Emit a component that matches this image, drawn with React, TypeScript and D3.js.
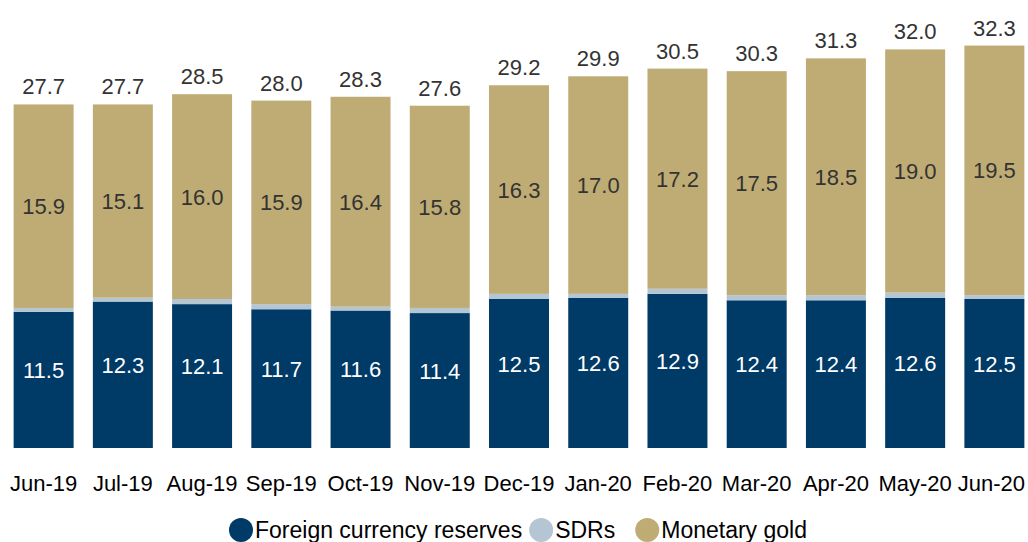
import React, { useEffect, useRef } from "react";
import * as d3 from "d3";

const months = ["Jun-19","Jul-19","Aug-19","Sep-19","Oct-19","Nov-19","Dec-19","Jan-20","Feb-20","Mar-20","Apr-20","May-20","Jun-20"];
const foreignReserves = [11.5,12.3,12.1,11.7,11.6,11.4,12.5,12.6,12.9,12.4,12.4,12.6,12.5];
const sdrs = [0.3,0.3,0.4,0.4,0.3,0.4,0.4,0.3,0.4,0.4,0.4,0.4,0.3];
const monetaryGold = [15.9,15.1,16.0,15.9,16.4,15.8,16.3,17.0,17.2,17.5,18.5,19.0,19.5];
const totals = [27.7,27.7,28.5,28.0,28.3,27.6,29.2,29.9,30.5,30.3,31.3,32.0,32.3];
const seriesNames = ["Foreign currency reserves","SDRs","Monetary gold"];
const seriesColors = ["#003A66","#B4C6D3","#BFAC74"];

const W = 1028, H = 542;
const FONT = "'Liberation Sans', Arial, sans-serif";

export default function App() {
  const ref = useRef<SVGSVGElement | null>(null);
  useEffect(() => {
    const svg = d3.select(ref.current);
    svg.selectAll("*").remove();
    const plotBottom = 448;
    const x = d3.scaleBand<string>().domain(months).range([4, 1034]).paddingInner(0.243).paddingOuter(0.1215);
    const y = d3.scaleLinear().domain([0, 35]).range([459, 459 - 35 * 12.8]);
    const rows = months.map((m, i) => ({ m, fx: foreignReserves[i], sdr: sdrs[i], gold: monetaryGold[i], total: totals[i] }));
    const stack = d3.stack<any>().keys(["fx", "sdr", "gold"])(rows);
    const g = svg.append("g");
    stack.forEach((layer, li) => {
      g.append("g").attr("fill", seriesColors[li]).selectAll("rect").data(layer).join("rect")
        .attr("x", (d: any) => x(d.data.m)!)
        .attr("width", x.bandwidth())
        .attr("y", (d: any) => y(d[1]))
        .attr("height", (d: any) => Math.min(y(d[0]), plotBottom) - y(d[1]));
    });
    // FX labels
    g.append("g").selectAll("text").data(rows).join("text")
      .attr("x", d => x(d.m)! + x.bandwidth() / 2)
      .attr("y", d => (y(d.fx) + plotBottom) / 2 - 10 + 8)
      .attr("text-anchor", "middle").attr("fill", "#ffffff")
      .style("font-family", FONT).style("font-size", "22px")
      .text(d => d.fx.toFixed(1));
    // Gold labels
    g.append("g").selectAll("text").data(rows).join("text")
      .attr("x", d => x(d.m)! + x.bandwidth() / 2)
      .attr("y", d => (y(d.fx + d.sdr) + y(d.total)) / 2 + 8)
      .attr("text-anchor", "middle").attr("fill", "#333333")
      .style("font-family", FONT).style("font-size", "22px")
      .text(d => d.gold.toFixed(1));
    // Totals
    g.append("g").selectAll("text").data(rows).join("text")
      .attr("x", d => x(d.m)! + x.bandwidth() / 2)
      .attr("y", d => y(d.total) - 10)
      .attr("text-anchor", "middle").attr("fill", "#333333")
      .style("font-family", FONT).style("font-size", "22px")
      .text(d => d.total.toFixed(1));
    // X axis labels
    const xl = g.append("g").selectAll("text").data(months).join("text")
      .attr("x", d => x(d)! + x.bandwidth() / 2)
      .attr("y", 491)
      .attr("text-anchor", "middle").attr("fill", "#000000")
      .style("font-family", FONT).style("font-size", "22px")
      .text(d => d);
    xl.each(function () {
      const el = this as SVGTextElement;
      const w = el.getComputedTextLength();
      const cx = +el.getAttribute("x")!;
      if (cx + w / 2 > W - 3) el.setAttribute("x", String(W - 3 - w / 2));
    });
    // Legend
    const lg = svg.append("g");
    let cx = 229;
    const gaps = [7, 20, 0];
    seriesNames.forEach((name, i) => {
      lg.append("circle").attr("cx", cx + 12).attr("cy", 530).attr("r", 12).attr("fill", seriesColors[i]);
      const t = lg.append("text").attr("x", cx + 26).attr("y", 538)
        .attr("fill", "#000").style("font-family", FONT).style("font-size", "23px").text(name);
      const w = (t.node() as SVGTextElement).getComputedTextLength();
      cx = cx + 26 + w + gaps[i];
    });
  }, []);
  return (
    <svg ref={ref} width={W} height={H} style={{ position: "absolute", left: 0, top: 0, background: "#fff" }} />
  );
}
